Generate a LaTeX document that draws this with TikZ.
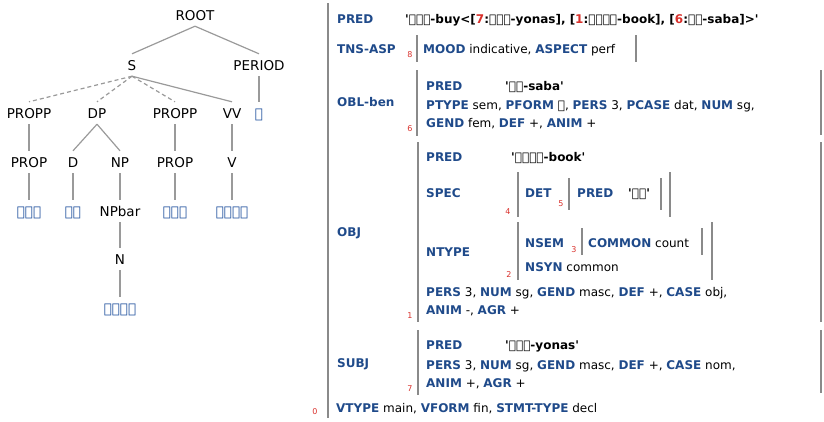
\documentclass[tikz,border=0pt]{standalone}
\usepackage{fontspec}
\setmainfont{DejaVu Sans}[Ligatures=TeXOff]
\newfontfamily\ethi{DejaVu Sans}
\definecolor{fsblue}{HTML}{1F4A8A}
\definecolor{leafblue}{HTML}{1E4F9C}
\definecolor{idxred}{HTML}{D9302B}
\definecolor{linegray}{HTML}{9A9A9A}
\definecolor{bargray}{HTML}{8A8A8A}
\newcommand\fsattr[1]{\textbf{\color{fsblue}#1}}
\newcommand\fsred[1]{{\color{idxred}#1}}
\newcommand\eth[1]{{\ethi #1}}
\begin{document}
\begin{tikzpicture}[x=1pt,y=-1pt,
  cat/.style={font=\fontsize{13.5}{16}\selectfont, inner xsep=1pt, inner ysep=6pt, text height=10pt, text depth=0pt, anchor=center},
  leaf/.style={cat, text=leafblue, font=\fontsize{13.5}{16}\selectfont\ethi\bfseries},
  tl/.style={draw=linegray, line width=1.2pt},
  tld/.style={tl, dash pattern=on 4pt off 3pt},
  fs/.style={font=\fontsize{12}{14}\selectfont, inner sep=0pt, anchor=base west},
  fsval/.style={fs, font=\fontsize{12}{14}\selectfont\bfseries},
  idx/.style={font=\fontsize{8}{9}\selectfont, text=idxred, inner sep=0pt, anchor=base},
  bar/.style={draw=bargray, line width=2pt}]
\useasboundingbox (0,0) rectangle (824,421);

% ---------------- tree ----------------
\node[cat] (root) at (195,15) {ROOT};
\node[cat] (s) at (132,65) {S};
\node[cat] (period) at (259,65) {PERIOD};
\node[cat] (propp1) at (29,113) {PROPP};
\node[cat] (dp) at (97,113) {DP};
\node[cat] (propp2) at (175,113) {PROPP};
\node[cat] (vv) at (232,113) {VV};
\node[leaf] (stop) at (259,113) {።};
\node[cat] (prop1) at (29,162) {PROP};
\node[cat] (d) at (73,162) {D};
\node[cat] (np) at (120,162) {NP};
\node[cat] (prop2) at (175,162) {PROP};
\node[cat] (v) at (232,162) {V};
\node[leaf] (yonas) at (29,211) {ዮናስ};
\node[leaf] (neti) at (73,211) {ነቲ};
\node[cat] (npbar) at (120,211) {NPbar};
\node[leaf] (nsaba) at (175,211) {ንሳባ};
\node[leaf] (gezi) at (232,211) {ገዚኡዎ};
\node[cat] (n) at (120,259) {N};
\node[leaf] (metsh) at (120,308) {መጽሓፍ};

\draw[tl] (root.south) -- (s.north);
\draw[tl] (root.south) -- (period.north);
\draw[tld] (s.south) -- (propp1.north);
\draw[tld] (s.south) -- (dp.north);
\draw[tld] (s.south) -- (propp2.north);
\draw[tl] (s.south) -- (vv.north);
\draw[tl] (period.south) -- (stop.north);
\draw[tl] (propp1.south) -- (prop1.north);
\draw[tl] (dp.south) -- (d.north);
\draw[tl] (dp.south) -- (np.north);
\draw[tl] (propp2.south) -- (prop2.north);
\draw[tl] (vv.south) -- (v.north);
\draw[tl] (prop1.south) -- (yonas.north);
\draw[tl] (d.south) -- (neti.north);
\draw[tl] (np.south) -- (npbar.north);
\draw[tl] (prop2.south) -- (nsaba.north);
\draw[tl] (v.south) -- (gezi.north);
\draw[tl] (npbar.south) -- (n.north);
\draw[tl] (n.south) -- (metsh.north);

% ---------------- f-structure ----------------
\draw[bar] (328,3) -- (328,418);
\node[idx] (i0) at (315,414) {0};

% PRED
\node[fs] (pred0) at (337,23) {\fsattr{PRED}};
\node[fsval] (pred0v) at (405,23) {'\eth{ገዚኡ}-buy<[\fsred{7}:\eth{ዮናስ}-yonas], [\fsred{1}:\eth{መጽሓፍ}-book], [\fsred{6}:\eth{ሳባ}-saba]>'};

% TNS-ASP
\node[fs] (tns) at (337,53) {\fsattr{TNS-ASP}};
\node[idx] (i8) at (410,57) {8};
\draw[bar] (417,35) -- (417,62);
\node[fs] (mood) at (423,53) {\fsattr{MOOD} indicative, \fsattr{ASPECT} perf};
\draw[bar] (636,35) -- (636,62);

% OBL-ben
\node[fs] (obl) at (337,106) {\fsattr{OBL-ben}};
\draw[bar] (417,70) -- (417,136);
\node[idx] (i6) at (410,131) {6};
\node[fs] (oblpred) at (426,90) {\fsattr{PRED}};
\node[fsval] (oblpredv) at (505,90) {'\eth{ሳባ}-saba'};
\node[fs] (obl2) at (426,109) {\fsattr{PTYPE} sem, \fsattr{PFORM} \eth{ን}, \fsattr{PERS} 3, \fsattr{PCASE} dat, \fsattr{NUM} sg,};
\node[fs] (obl3) at (426,127.5) {\fsattr{GEND} fem, \fsattr{DEF} +, \fsattr{ANIM} +};
\draw[bar] (821,70) -- (821,135);

% OBJ
\node[fs] (obj) at (337,236) {\fsattr{OBJ}};
\draw[bar] (418,142) -- (418,322);
\node[idx] (i1) at (410,318) {1};
\node[fs] (objpred) at (426,161.5) {\fsattr{PRED}};
\node[fsval] (objpredv) at (511,161.5) {'\eth{መጽሓፍ}-book'};
\node[fs] (spec) at (426,197.5) {\fsattr{SPEC}};
\draw[bar] (518,172) -- (518,217);
\node[idx] (i4) at (508,214) {4};
\node[fs] (det) at (525,197.5) {\fsattr{DET}};
\node[idx] (i5) at (561,206) {5};
\draw[bar] (569,178) -- (569,210);
\node[fs] (detpred) at (577,197.5) {\fsattr{PRED}};
\node[fsval] (detpredv) at (628,197.5) {'\eth{እቲ}'};
\draw[bar] (661,178) -- (661,210);
\draw[bar] (670,172) -- (670,217);
\node[fs] (ntype) at (426,256.5) {\fsattr{NTYPE}};
\draw[bar] (518,222) -- (518,280);
\node[idx] (i2) at (509,277) {2};
\node[fs] (nsem) at (525,247.5) {\fsattr{NSEM}};
\node[idx] (i3) at (574,252) {3};
\draw[bar] (582,228) -- (582,255);
\node[fs] (common) at (588,247.5) {\fsattr{COMMON} count};
\draw[bar] (702,228) -- (702,255);
\node[fs] (nsyn) at (525,271.5) {\fsattr{NSYN} common};
\draw[bar] (712,222) -- (712,280);
\node[fs] (obj2) at (426,296.5) {\fsattr{PERS} 3, \fsattr{NUM} sg, \fsattr{GEND} masc, \fsattr{DEF} +, \fsattr{CASE} obj,};
\node[fs] (obj3) at (426,314) {\fsattr{ANIM} -, \fsattr{AGR} +};
\draw[bar] (821,142) -- (821,322);

% SUBJ
\node[fs] (subj) at (337,367.5) {\fsattr{SUBJ}};
\draw[bar] (418,330) -- (418,395);
\node[idx] (i7) at (410,391) {7};
\node[fs] (subjpred) at (426,349.5) {\fsattr{PRED}};
\node[fsval] (subjpredv) at (505,349.5) {'\eth{ዮናስ}-yonas'};
\node[fs] (subj2) at (426,369) {\fsattr{PERS} 3, \fsattr{NUM} sg, \fsattr{GEND} masc, \fsattr{DEF} +, \fsattr{CASE} nom,};
\node[fs] (subj3) at (426,387) {\fsattr{ANIM} +, \fsattr{AGR} +};
\draw[bar] (821,330) -- (821,393);

% last line
\node[fs] (vtype) at (336,412) {\fsattr{VTYPE} main, \fsattr{VFORM} fin, \fsattr{STMT-TYPE} decl};
\end{tikzpicture}
\end{document}
